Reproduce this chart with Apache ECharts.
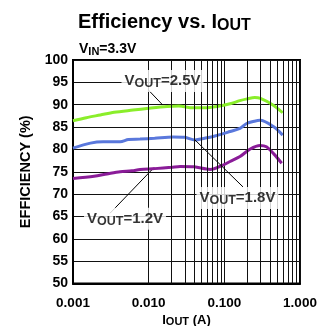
<!DOCTYPE html>
<html>
<head>
<meta charset="utf-8">
<script src="https://cdn.jsdelivr.net/npm/echarts@6/dist/echarts.min.js"></script>
<style>
  html, body { margin: 0; padding: 0; background: #fff; }
  #chart { width: 326px; height: 326px; }
</style>
</head>
<body>
<div id="chart"></div>
<script>
// Output current (A) and efficiency (%) for each output voltage, VIN = 3.3 V
const iout25 = [0.001, 0.0015, 0.0023, 0.0035, 0.0062, 0.01, 0.0175, 0.025, 0.0385, 0.055, 0.08, 0.119, 0.16, 0.2, 0.253, 0.3, 0.444, 0.59];
const eff25  = [86.4, 87.1, 87.7, 88.3, 88.8, 89.2, 89.6, 89.7, 89.3, 89.3, 89.6, 90.2, 90.9, 91.3, 91.6, 91.4, 89.9, 88.2];

const iout18 = [0.001, 0.0017, 0.0025, 0.0042, 0.0054, 0.0077, 0.012, 0.021, 0.03, 0.041, 0.055, 0.075, 0.119, 0.161, 0.197, 0.25, 0.296, 0.444, 0.59];
const eff18  = [80.3, 81.4, 81.7, 81.7, 82.2, 82.3, 82.5, 82.8, 82.7, 82.1, 82.5, 83.0, 84.0, 84.7, 85.8, 86.3, 86.5, 85.1, 83.2];

const iout12 = [0.001, 0.0019, 0.0028, 0.0042, 0.006, 0.0077, 0.012, 0.02, 0.026, 0.04, 0.065, 0.096, 0.119, 0.161, 0.22, 0.296, 0.36, 0.45, 0.573];
const eff12  = [73.5, 74.0, 74.5, 75.0, 75.2, 75.5, 75.7, 76.0, 76.2, 76.1, 75.5, 76.5, 77.3, 78.4, 80.1, 80.9, 80.6, 79.0, 76.9];

const seriesNames  = ['2.5V', '1.8V', '1.2V'];
const seriesColors = ['#8aee2a', '#5a78dc', '#8a1c98'];

// Axis ticks
const xTickLabels = ['0.001', '0.010', '0.100', '1.000'];
const yMin = 50, yMax = 100, yStep = 5;
// Intermediate log-decade grid lines (2..9 of each decade)
const minorCurrents = [0.002, 0.003, 0.004, 0.005, 0.006, 0.007, 0.008, 0.009,
                       0.02, 0.03, 0.04, 0.05, 0.06, 0.07, 0.08, 0.09,
                       0.2, 0.3, 0.4, 0.5, 0.6, 0.7, 0.8, 0.9];

// Curve callouts: label anchor (A, %) and leader segment endpoints
const noteNames  = ['2.5V', '1.8V', '1.2V'];
const noteAnchor = [[0.01524, 95.3], [0.149, 69.1], [0.00487, 64.5]];
const noteLeader = [
  [[0.0099, 93.3], [0.0152, 90.0]],
  [[0.0410, 82.1], [0.1765, 71.6]],
  [[0.00308, 65.7], [0.01096, 75.4]]
];

const FONT = '"Liberation Sans", Arial, sans-serif';
const GRID_COLOR = '#111';

const curves = [[iout25, eff25], [iout18, eff18], [iout12, eff12]].map((d, k) => ({
  name: seriesNames[k],
  type: 'line',
  z: 3,
  smooth: 0.3,
  symbol: 'none',
  lineStyle: { color: seriesColors[k], width: 3 },
  data: d[0].map((x, i) => [x, d[1][i]])
}));

const chart = echarts.init(document.getElementById('chart'), null, { renderer: 'canvas' });
chart.setOption({
  animation: false,
  backgroundColor: '#fff',
  title: [
    {
      text: '{a|Efficiency vs. I}{b|OUT}',
      left: 73, top: 5,
      textStyle: {
        rich: {
          a: { fontFamily: FONT, fontWeight: 'bold', fontSize: 20, lineHeight: 24, color: '#000' },
          b: { fontFamily: FONT, fontWeight: 'bold', fontSize: 16, lineHeight: 14, verticalAlign: 'bottom', color: '#000' }
        }
      }
    },
    {
      text: '{a|V}{b|IN}{a|=3.3V}',
      left: 74, top: 36,
      textStyle: {
        rich: {
          a: { fontFamily: FONT, fontWeight: 'bold', fontSize: 14, lineHeight: 16, color: '#000' },
          b: { fontFamily: FONT, fontWeight: 'bold', fontSize: 11, lineHeight: 9, verticalAlign: 'bottom', color: '#000' }
        }
      }
    }
  ],
  grid: {
    left: 73, right: 26, top: 60, bottom: 42.5,
    show: true, borderColor: '#000', borderWidth: 2,
    outerBoundsMode: 'none'
  },
  xAxis: {
    type: 'log', logBase: 10, min: 0.001, max: 1,
    name: '{a|I}{b|OUT}{a| (A)}',
    nameLocation: 'middle', nameGap: 29,
    nameMoveOverlap: false,
    nameTextStyle: {
      rich: {
        a: { fontFamily: FONT, fontWeight: 'bold', fontSize: 13, lineHeight: 15, color: '#000' },
        b: { fontFamily: FONT, fontWeight: 'bold', fontSize: 11, lineHeight: 9, verticalAlign: 'bottom', color: '#000' }
      }
    },
    axisLine: { show: true, lineStyle: { color: '#000', width: 2 } },
    axisTick: { show: false },
    axisLabel: {
      margin: 13, color: '#000', fontFamily: FONT, fontWeight: 'bold', fontSize: 13.5,
      formatter: v => xTickLabels[Math.round(Math.log10(v) + 3)] || ''
    },
    splitLine: { show: true, lineStyle: { color: GRID_COLOR, width: 1 } }
  },
  yAxis: {
    type: 'value', min: yMin, max: yMax, interval: yStep,
    name: 'EFFICIENCY (%)',
    nameLocation: 'middle', nameGap: 40,
    nameMoveOverlap: false,
    nameTextStyle: { fontFamily: FONT, fontWeight: 'bold', fontSize: 14.5, color: '#000' },
    axisLine: { show: true, lineStyle: { color: '#000', width: 2 } },
    axisTick: { show: false },
    axisLabel: { margin: 5, color: '#000', fontFamily: FONT, fontWeight: 'bold', fontSize: 14 },
    splitLine: { show: true, lineStyle: { color: GRID_COLOR, width: 1 } }
  },
  series: [
    {
      name: 'minor-grid',
      type: 'line',
      z: 1,
      silent: true,
      symbol: 'none',
      lineStyle: { width: 0, opacity: 0 },
      data: [[0.001, yMin]],
      markLine: {
        silent: true, symbol: 'none',
        label: { show: false },
        lineStyle: { color: GRID_COLOR, width: 1, type: 'solid' },
        data: minorCurrents.map(v => ({ xAxis: v }))
      }
    },
    ...curves,
    {
      name: 'leaders',
      type: 'lines',
      coordinateSystem: 'cartesian2d',
      z: 4,
      silent: true,
      lineStyle: { color: '#000', width: 1, opacity: 1 },
      data: noteLeader.map(c => ({ coords: c }))
    },
    {
      name: 'callouts',
      type: 'scatter',
      z: 5,
      silent: true,
      symbolSize: 0,
      data: noteAnchor,
      label: {
        show: true, position: 'inside',
        backgroundColor: '#fff', padding: [2, 3],
        formatter: p => '{v|V}{s|OUT}{v|=' + noteNames[p.dataIndex] + '}',
        rich: {
          v: { fontFamily: FONT, fontWeight: 'bold', fontSize: 15, lineHeight: 18, color: '#000' },
          s: { fontFamily: FONT, fontWeight: 'bold', fontSize: 12.5, lineHeight: 10, verticalAlign: 'bottom', color: '#000' }
        }
      }
    }
  ]
});
</script>
</body>
</html>
